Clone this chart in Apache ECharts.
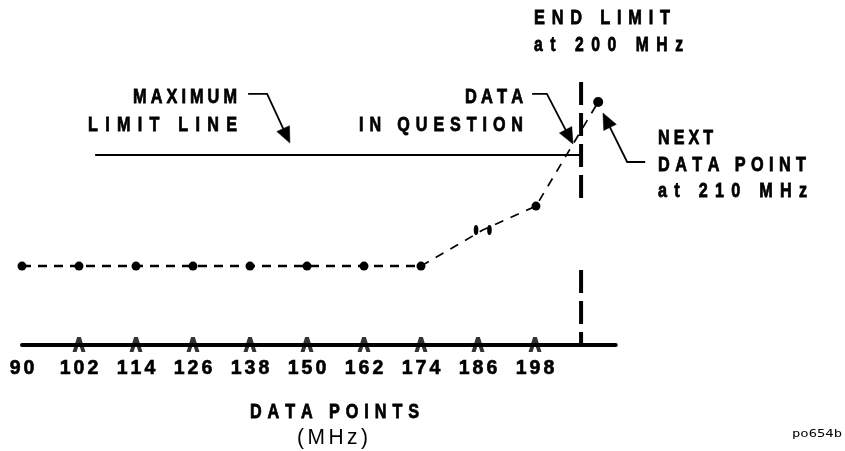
<!DOCTYPE html>
<html><head><meta charset="utf-8">
<script src="https://cdn.jsdelivr.net/npm/echarts@6/dist/echarts.min.js"></script>
<style>html,body{margin:0;padding:0;background:#fff}#c{width:845px;height:451px}</style>
</head><body><div id="c"></div>
<script>
// ---------- data ----------
const tickLabels = [90, 102, 114, 126, 138, 150, 162, 174, 186, 198];
const chevronTicks = [102, 114, 126, 138, 150, 162, 174, 186, 198];
const flatFreqs = [90, 102, 114, 126, 138, 150, 162, 174];
const flatLevels = [2.63, 2.63, 2.63, 2.63, 2.63, 2.63, 2.63, 2.63];
const riseFreqs = [174, 187, 198.2, 211.3];
const riseLevels = [2.63, 3.83, 4.63, 8.1];
const limitFreqs = [105.4, 207.7];
const limitLevels = [6.33, 6.33];
const endLimitFreq = 207.7;
const endLimitLevels = [8.77, 4.83, null, 2.5, 0];
// callout arrows (data coordinates: shaft start, elbow, tip)
const arrowMaximum = [[137.6, 8.37], [141.6, 8.37], [146.4, 6.73]];
const arrowData = [[197.4, 8.37], [200.5, 8.37], [206.0, 6.7]];
const arrowNext = [[221.2, 6.1], [217.4, 6.1], [212.3, 7.73]];

// ---------- helpers ----------
const FAM = '"Liberation Sans", Arial, sans-serif';
const BOLD = (s) => 'bold ' + s + 'px ' + FAM;
const REG = (s) => s + 'px ' + FAM;

const chart = echarts.init(document.getElementById('c'), null, {renderer: 'canvas'});

const chevron = 'path://M0,16 L5,0 L9,0 L14,16 L9.6,16 L7,7.5 L4.4,16 Z';
const doubleDot = 'path://M0,5 A2.3,4.5 0 1,0 4.6,5 A2.3,4.5 0 1,0 0,5 Z M13.4,5 A2.3,4.5 0 1,0 18,5 A2.3,4.5 0 1,0 13.4,5 Z';

const riseSymbols = ['none', doubleDot, 'circle', 'circle'];
const riseSizes = [0, [18, 10], 9, 10];

const option = {
  animation: false,
  backgroundColor: '#fff',
  grid: {left: 22, right: 229.25, top: 45, bottom: 106},
  xAxis: {
    type: 'value', min: 90, max: 215, interval: 12,
    axisLine: {show: true, onZero: false, lineStyle: {color: '#000', width: 4}},
    axisTick: {show: false},
    splitLine: {show: false},
    axisLabel: {
      show: true, showMaxLabel: false, margin: 14,
      formatter: (v) => tickLabels.indexOf(v) >= 0 ? String(v).split('').map(c => '{d|' + c + '}').join('{g|\u2009}') : '',
      rich: {
        d: {color: '#000', fontSize: 19.5, fontWeight: 'bold', fontFamily: FAM,
            textBorderColor: '#000', textBorderWidth: 0.6},
        g: {width: 3, fontSize: 19, fontFamily: FAM}
      }
    }
  },
  yAxis: {type: 'value', min: 0, max: 10, show: false},
  series: [
    {
      type: 'line', clip: false, z: 3,
      data: flatFreqs.map((f, i) => [f, flatLevels[i]]),
      symbol: 'circle', symbolSize: 9,
      itemStyle: {color: '#000'},
      lineStyle: {color: '#000', width: 2.5, type: [9, 7]}
    },
    {
      type: 'line', clip: false, z: 3,
      data: riseFreqs.map((f, i) => ({value: [f, riseLevels[i]], symbol: riseSymbols[i], symbolSize: riseSizes[i]})),
      itemStyle: {color: '#000'},
      lineStyle: {color: '#000', width: 1.7, type: [9, 8]}
    },
    {
      type: 'line', clip: false, z: 2, symbol: 'none',
      data: limitFreqs.map((f, i) => [f, limitLevels[i]]),
      lineStyle: {color: '#000', width: 2}
    },
    {
      type: 'line', clip: false, z: 4, symbol: 'none', connectNulls: false,
      data: endLimitLevels.map(l => [endLimitFreq, l === null ? '-' : l]),
      lineStyle: {color: '#000', width: 4, type: [23, 8], cap: 'butt'}
    },
    {
      type: 'scatter', clip: false, z: 5,
      data: chevronTicks.map(f => [f, 0]),
      symbol: chevron, symbolSize: [13, 15], symbolOffset: [0, -0.5],
      itemStyle: {color: '#000'}
    }
  ]
};
chart.setOption(option);

// ---------- annotations ----------
const ctx = document.createElement('canvas').getContext('2d');
function measure(t, font) { ctx.font = font; return ctx.measureText(t).width; }
function spacedFit(text, font, targetW, s0) {
  let best = null;
  for (let a = 0; a <= 3; a++) {
    for (let b = 0; b <= 5; b++) {
      const sep = '\u2009'.repeat(a) + '\u200A'.repeat(b);
      const str = text.split(' ').map(w => w.split('').join(sep)).join(sep + ' ' + sep);
      const s = targetW / measure(str, font);
      const err = Math.abs(s - s0);
      if (!best || err < best.err) best = {str, s, err};
    }
  }
  return best;
}
function fitText(text, font, left, right, cy, s0, heavy) {
  const r = spacedFit(text, font, right - left, s0);
  return {
    type: 'text', x: left, y: cy, scaleX: r.s, z: 10,
    style: {text: r.str, font: font, fill: '#000', align: 'left', verticalAlign: 'middle',
            textAlign: 'left', textVerticalAlign: 'middle',
            stroke: heavy ? '#000' : null, lineWidth: heavy ? 0.8 : 0}
  };
}
const texts = [
  ['END LIMIT', 21, 534, 670, 18.5],
  ['at 200 MHz', 20, 534, 683, 45.5],
  ['MAXIMUM', 21, 133, 237, 97],
  ['LIMIT LINE', 21, 88, 237, 125],
  ['DATA', 21, 465, 523, 97],
  ['IN QUESTION', 21, 359, 523, 125],
  ['NEXT', 21, 658, 713, 138],
  ['DATA POINT', 21, 658, 806, 165],
  ['at 210 MHz', 21, 658, 807, 191.5],
  ['DATA POINTS', 21, 250, 419, 412.5]
];
const graphics = texts.map(t => fitText(t[0], BOLD(t[1]), t[2], t[3], t[4], 0.78, true));
graphics.push(fitText('(MHz)', REG(22), 297, 368, 438, 1.0, false));
graphics.push(fitText('po654b', '11px "DejaVu Sans Mono", "Liberation Mono", monospace', 792, 842, 434, 1.0, false));

function arrow(pts) {
  const p = pts.map(d => chart.convertToPixel({gridIndex: 0}, d));
  const tip = p[2], prev = p[1];
  const dx = tip[0] - prev[0], dy = tip[1] - prev[1];
  const len = Math.hypot(dx, dy), ux = dx / len, uy = dy / len;
  const L = 16, H = 7;
  const bx = tip[0] - ux * L, by = tip[1] - uy * L;
  const nx = -uy, ny = ux;
  return [
    {type: 'polyline', z: 10, shape: {points: [p[0], p[1], [bx + ux * 2, by + uy * 2]]},
     style: {stroke: '#000', lineWidth: 1.8, fill: null}},
    {type: 'polygon', z: 10, shape: {points: [tip, [bx + nx * H, by + ny * H], [bx - nx * H, by - ny * H]]},
     style: {fill: '#000', stroke: '#000', lineWidth: 0.5}}
  ];
}
[arrowMaximum, arrowData, arrowNext].forEach(a => graphics.push(...arrow(a)));
chart.setOption({graphic: graphics});
</script></body></html>
